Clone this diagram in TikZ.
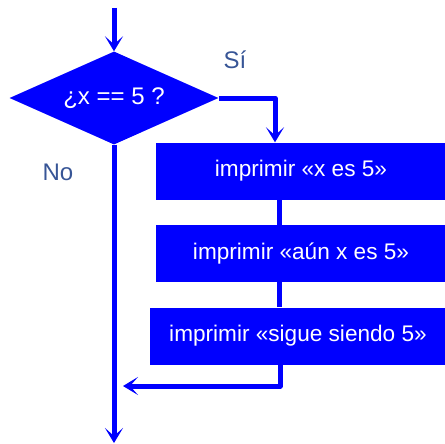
\documentclass[tikz,border=0pt]{standalone}
\usepackage{fontspec}
\setmainfont{Liberation Sans}
\usetikzlibrary{shapes.geometric, arrows.meta}

\definecolor{azul}{RGB}{0,0,255}
\definecolor{etiqueta}{RGB}{55,85,150}

\tikzset{
    caja/.style={fill=azul, text=white, minimum height=57pt, inner sep=0pt,
        font=\fontsize{22.6}{27}\selectfont},
    linea/.style={draw=azul, line width=5pt, line join=round},
    flecha/.style={linea, -{Stealth[length=15pt, width=18pt, inset=8pt]}},
}

\begin{document}
\begin{tikzpicture}[x=1pt, y=-1pt]
    \useasboundingbox (0, 0) rectangle (444, 444);

    \coordinate (inicio) at (114, 8);
    \coordinate (union) at (123, 386);
    \coordinate (fin) at (114, 443);

    \node[shape=diamond, fill=azul, text=white, inner sep=0pt, aspect=2.25,
        minimum width=209pt, minimum height=93pt,
        font=\fontsize{24}{28}\selectfont] (cond) at (114, 98) {¿x == 5 ?};

    \node[caja, minimum width=290pt] (caja1) at (301, 171) {imprimir «x es 5»};
    \node[caja, minimum width=290pt] (caja2) at (301, 253.5) {imprimir «aún x es 5»};
    \node[caja, minimum width=296pt] (caja3) at (298, 336) {imprimir «sigue siendo 5»};

    \node[text=etiqueta, font=\fontsize{24}{28}\selectfont] (si) at (235, 60) {Sí};
    \node[text=etiqueta, font=\fontsize{24}{28}\selectfont] (no) at (58, 172) {No};

    \draw[flecha] (inicio) -- (cond.north);
    \draw[flecha] (cond.east) -| ([xshift=-26pt]caja1.north);
    \draw[linea] ([xshift=-22pt]caja1.south) -- ([xshift=-22pt]caja2.north);
    \draw[linea] ([xshift=-22pt]caja2.south) -- ([xshift=-22pt]caja2.south |- caja3.north);
    \draw[flecha] ([xshift=-18pt]caja3.south) |- (union);
    \draw[flecha] (cond.south) -- (fin);

\end{tikzpicture}
\end{document}
